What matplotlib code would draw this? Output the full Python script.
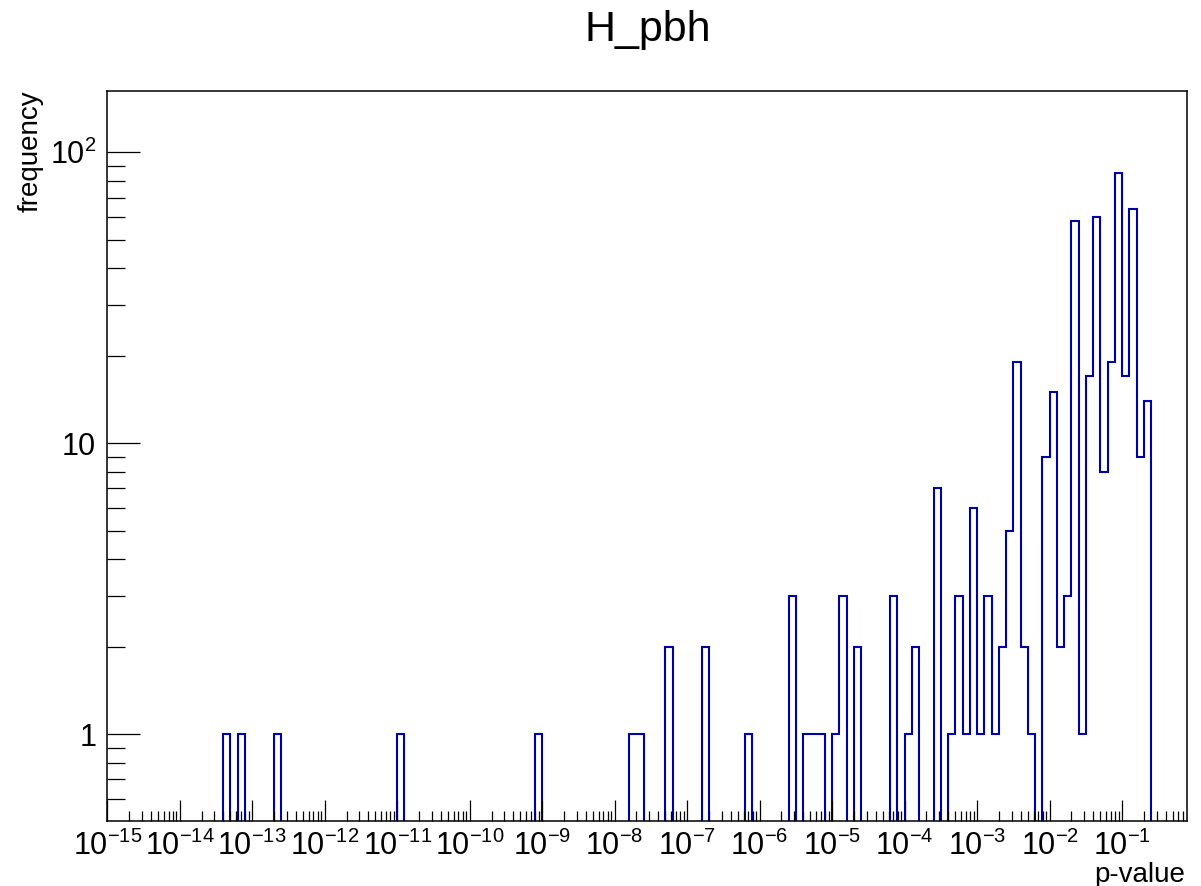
import numpy as np
import matplotlib
matplotlib.use("Agg")
import matplotlib.pyplot as plt
import matplotlib.ticker as ticker
import matplotlib._mathtext as mtext

plt.rcParams['font.family'] = ['Liberation Sans', 'DejaVu Sans']
plt.rcParams['mathtext.fontset'] = 'custom'
plt.rcParams['mathtext.rm'] = 'Liberation Sans'
plt.rcParams['mathtext.it'] = 'Liberation Sans:italic'
plt.rcParams['mathtext.bf'] = 'Liberation Sans:bold'
# smaller exponents, closer to the ROOT look
mtext.SHRINK_FACTOR = 0.66

# histogram binning: 10 bins per decade, log10(p) from -15 to -0.1
log_lo = -15.0
log_hi = -0.1
n_bins = 149

# non-empty bins: log10 of the lower bin edge, and the count in that bin
bin_lo_exp = [-13.4, -13.2, -12.7, -11.0, -9.1, -7.8, -7.7, -7.3, -6.8, -6.2,
              -5.6, -5.4, -5.3, -5.2, -5.0, -4.9, -4.7, -4.2, -4.0, -3.9,
              -3.6, -3.4, -3.3, -3.2, -3.1, -3.0, -2.9, -2.8, -2.7, -2.6,
              -2.5, -2.4, -2.3, -2.1, -2.0, -1.9, -1.8, -1.7, -1.6, -1.5,
              -1.4, -1.3, -1.2, -1.1, -1.0, -0.9, -0.8, -0.7]
bin_counts = [1, 1, 1, 1, 1, 1, 1, 2, 2, 1,
              3, 1, 1, 1, 1, 3, 2, 3, 1, 2,
              7, 1, 3, 1, 6, 1, 3, 1, 2, 5,
              19, 2, 1, 9, 15, 2, 3, 58, 1, 17,
              60, 8, 19, 85, 17, 64, 9, 14]

x_decades = list(range(-15, 0))

edges = np.logspace(log_lo, log_hi, n_bins + 1)
counts = np.zeros(n_bins)
for e, c in zip(bin_lo_exp, bin_counts):
    counts[int(round((e - log_lo) * 10))] = c

fig = plt.figure(figsize=(12.01, 8.86), dpi=100)
ax = fig.add_axes([0.0893, 0.0737, 0.8993, 0.8239])

ax.set_xscale('log')
ax.set_yscale('log')
ax.stairs(counts, edges, baseline=0, color='#0000a8', linewidth=1.5)

ax.set_xlim(10 ** log_lo, 10 ** log_hi)
ax.set_ylim(0.505, 163)

# x ticks
ax.xaxis.set_major_locator(ticker.FixedLocator([10.0 ** d for d in x_decades]))
ax.xaxis.set_major_formatter(ticker.FixedFormatter(
    ["$10^{%d}$" % d for d in x_decades]))
xminor = [m * 10.0 ** d for d in range(-15, 0) for m in range(2, 10)]
ax.xaxis.set_minor_locator(ticker.FixedLocator(xminor))
ax.xaxis.set_minor_formatter(ticker.NullFormatter())

# y ticks
ax.yaxis.set_major_locator(ticker.FixedLocator([1, 10, 100]))
ax.yaxis.set_major_formatter(ticker.FixedFormatter(["1", "10", "$10^{2}$"]))
yminor = [m * 10.0 ** d for d in range(-1, 3) for m in range(2, 10)]
ax.yaxis.set_minor_locator(ticker.FixedLocator(yminor))
ax.yaxis.set_minor_formatter(ticker.NullFormatter())

ax.tick_params(axis='x', which='major', direction='in', length=15, width=0.9,
               labelsize=22, pad=8, top=False)
ax.tick_params(axis='x', which='minor', direction='in', length=7.3, width=0.9,
               top=False)
ax.tick_params(axis='y', which='major', direction='in', length=23.5, width=0.9,
               labelsize=22, pad=8, right=False)
ax.tick_params(axis='y', which='minor', direction='in', length=12.7, width=0.9,
               right=False)

for sp in ax.spines.values():
    sp.set_linewidth(1.1)

fig.text(0.5395, 0.954, "H_pbh", fontsize=31, ha='center', va='baseline')
fig.text(1185 / 1201, 1 - 882 / 886, "p-value", fontsize=20, ha='right',
         va='baseline')
fig.text(31 / 1201, 1 - 90.7 / 886, "frequency", fontsize=20, rotation=90,
         ha='center', va='top')

plt.savefig("out.png", dpi=100)
plt.close()
